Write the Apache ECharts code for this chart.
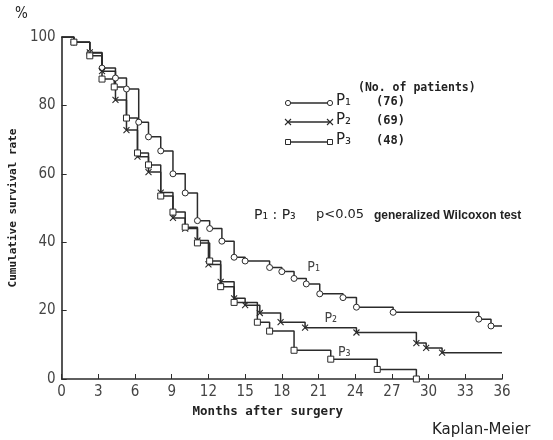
<!DOCTYPE html>
<html>
<head>
<meta charset="utf-8">
<script src="https://cdn.jsdelivr.net/npm/echarts@6/dist/echarts.min.js"></script>
<style>
  html, body { margin: 0; padding: 0; background: #fff; }
  #chart { width: 553px; height: 440px; }
</style>
</head>
<body>
<div id="chart"></div>
<script>
const chart = echarts.init(document.getElementById("chart"));

// ==========================
// DATA
// ==========================

const xTicks = [0, 3, 6, 9, 12, 15, 18, 21, 24, 27, 30, 33, 36];
const yTicks = [0, 20, 40, 60, 80, 100];

// P1 (circles)
const p1Months = [0, 1.0, 2.3, 3.3, 4.4, 5.3, 6.3, 7.1, 8.1, 9.1, 10.1, 11.1, 12.1, 13.1, 14.1, 15.0, 17.0, 18.0, 19.0, 20.0, 21.1, 23.0, 24.1, 27.1, 34.1, 35.1, 36];
const p1Surv   = [100, 98.5, 95.3, 90.9, 88.0, 84.8, 75.1, 70.8, 66.7, 60.0, 54.4, 46.3, 44.0, 40.3, 35.6, 34.5, 32.6, 31.4, 29.4, 27.8, 24.9, 23.8, 21.0, 19.5, 17.5, 15.5, 15.5];

// P2 (crosses)
const p2Months = [0, 1.0, 2.3, 3.3, 4.4, 5.3, 6.2, 7.1, 8.1, 9.1, 10.1, 11.1, 12.0, 13.0, 14.1, 15.0, 16.2, 17.9, 19.9, 24.1, 29.0, 29.8, 31.1, 36];
const p2Surv   = [100, 98.5, 95.5, 90.0, 81.6, 72.8, 65.0, 60.5, 54.5, 47.1, 44.0, 40.5, 33.5, 28.4, 23.6, 21.6, 19.3, 16.6, 15.0, 13.6, 10.5, 9.1, 7.7, 7.7];

// P3 (squares)
const p3Months = [0, 1.0, 2.3, 3.3, 4.3, 5.3, 6.2, 7.1, 8.1, 9.1, 10.1, 11.1, 12.1, 13.0, 14.1, 16.0, 17.0, 19.0, 22.0, 25.8, 29.0];
const p3Surv   = [100, 98.5, 94.5, 87.7, 85.4, 76.3, 66.1, 62.6, 53.5, 48.8, 44.4, 39.8, 34.5, 27.0, 22.4, 16.6, 14.0, 8.4, 5.8, 2.8, 0];

// censored observations (small vertical ticks)
const censorMonths = [5.2, 8.0, 15.0, 33.1];
const censorSurv   = [88.0, 70.8, 34.5, 19.5];

const groupNames = ["P₁", "P₂", "P₃"];
const groupCounts = ["(76)", "(69)", "(48)"];

// ==========================
// STYLE
// ==========================

const INK = "#2b2b2b";
const CROSS = "path://M0,0L10,10M0,10L10,0";
const TICK = "path://M0,0L0,10";
const MONO = "'DejaVu Sans Mono', monospace";
const NARROW = "'DejaVu Sans Condensed', 'Liberation Sans Narrow', sans-serif";

function kmData(months, surv) {
  return months.map((t, i) => {
    const hidden = i === 0 || (i === months.length - 1 && surv[i] === surv[i - 1]);
    return hidden ? { value: [t, surv[i]], symbol: "none" } : [t, surv[i]];
  });
}

function kmSeries(name, months, surv, symbol, labelCoord) {
  const isCross = symbol === CROSS;
  return {
    name: name,
    type: "line",
    step: "end",
    data: kmData(months, surv),
    symbol: symbol,
    symbolSize: 6,
    showAllSymbol: true,
    lineStyle: { color: INK, width: 1.5 },
    itemStyle: isCross
      ? { color: INK, borderColor: INK, borderWidth: 1.1 }
      : { color: "#fff", borderColor: INK, borderWidth: 1 },
    markPoint: {
      symbol: "circle",
      symbolSize: 0,
      data: [{ coord: labelCoord }],
      label: {
        show: true,
        formatter: name,
        color: "#444",
        fontFamily: NARROW,
        fontSize: 14
      }
    },
    z: 3
  };
}

function crossLines(cx, cy) {
  return [
    { type: "line", shape: { x1: cx - 3, y1: cy - 3, x2: cx + 3, y2: cy + 3 }, style: { stroke: INK, lineWidth: 1.1 } },
    { type: "line", shape: { x1: cx - 3, y1: cy + 3, x2: cx + 3, y2: cy - 3 }, style: { stroke: INK, lineWidth: 1.1 } }
  ];
}

function txt(x, y, text, font, size, weight) {
  return {
    type: "text",
    x: x,
    y: y,
    style: { text: text, fontFamily: font, fontSize: size, fontWeight: weight || "normal", fill: "#222" }
  };
}

chart.setOption({
  animation: false,
  grid: { left: 58, right: 51, top: 37, bottom: 61 },
  xAxis: {
    type: "value",
    min: 0,
    max: 36,
    interval: 3,
    name: "Months after surgery",
    nameLocation: "middle",
    nameGap: 24,
    nameTextStyle: {
      fontFamily: MONO,
      fontSize: 12.5,
      fontWeight: "bold",
      color: "#222",
      padding: [0, 28, 0, 0]
    },
    axisLine: { lineStyle: { color: INK, width: 1.6 } },
    axisTick: { inside: true, length: 5, lineStyle: { color: INK } },
    splitLine: { show: false },
    axisLabel: {
      margin: 6,
      fontFamily: NARROW,
      fontSize: 15,
      color: "#444",
      formatter: (v) => (xTicks.includes(v) ? String(v) : "")
    }
  },
  yAxis: {
    type: "value",
    min: 0,
    max: 100,
    interval: 20,
    name: "Cumulative survival rate",
    nameLocation: "middle",
    nameRotate: 90,
    nameGap: 36,
    nameTextStyle: {
      fontFamily: MONO,
      fontSize: 11,
      fontWeight: "bold",
      color: "#222"
    },
    axisLine: { show: true, lineStyle: { color: INK, width: 1.6 } },
    axisTick: { show: true, inside: true, length: 5, lineStyle: { color: INK } },
    splitLine: { show: false },
    axisLabel: {
      margin: 6,
      fontFamily: NARROW,
      fontSize: 15,
      color: "#444",
      formatter: (v) => (yTicks.includes(v) ? String(v) : "")
    }
  },
  series: [
    kmSeries(groupNames[0], p1Months, p1Surv, "circle", [20.6, 32.5]),
    kmSeries(groupNames[1], p2Months, p2Surv, CROSS, [22.0, 17.8]),
    kmSeries(groupNames[2], p3Months, p3Surv, "rect", [23.1, 7.9]),
    {
      type: "scatter",
      data: censorMonths.map((t, i) => [t, censorSurv[i]]),
      symbol: TICK,
      symbolSize: [2, 7],
      symbolOffset: [0, -3],
      itemStyle: { color: INK, borderColor: INK, borderWidth: 1 },
      z: 2
    }
  ],
  graphic: [
    txt(15, 7, "%", NARROW, 15),

    // legend block
    txt(358, 82, "(No. of patients)", MONO, 11.5, "bold"),

    { type: "line", shape: { x1: 288, y1: 103, x2: 330, y2: 103 }, style: { stroke: INK, lineWidth: 1.5 } },
    { type: "circle", shape: { cx: 288, cy: 103, r: 2.6 }, style: { fill: "#fff", stroke: INK, lineWidth: 1 } },
    { type: "circle", shape: { cx: 330, cy: 103, r: 2.6 }, style: { fill: "#fff", stroke: INK, lineWidth: 1 } },

    { type: "line", shape: { x1: 288, y1: 122, x2: 330, y2: 122 }, style: { stroke: INK, lineWidth: 1.5 } },
    ...crossLines(288, 122),
    ...crossLines(330, 122),

    { type: "line", shape: { x1: 288, y1: 142, x2: 330, y2: 142 }, style: { stroke: INK, lineWidth: 1.5 } },
    { type: "rect", shape: { x: 285.5, y: 139.5, width: 5, height: 5 }, style: { fill: "#fff", stroke: INK, lineWidth: 1 } },
    { type: "rect", shape: { x: 327.5, y: 139.5, width: 5, height: 5 }, style: { fill: "#fff", stroke: INK, lineWidth: 1 } },

    txt(336, 94, groupNames[0], "'DejaVu Sans', sans-serif", 15),
    txt(336, 113, groupNames[1], "'DejaVu Sans', sans-serif", 15),
    txt(336, 133, groupNames[2], "'DejaVu Sans', sans-serif", 15),
    txt(376, 96, groupCounts[0], MONO, 12, "bold"),
    txt(376, 115, groupCounts[1], MONO, 12, "bold"),
    txt(376, 135, groupCounts[2], MONO, 12, "bold"),

    // test annotation
    txt(254, 208, "P₁ : P₃", "'DejaVu Sans', sans-serif", 14),
    txt(316, 208, "p<0.05", "'DejaVu Sans', sans-serif", 13),
    txt(374, 210, "generalized Wilcoxon test", "'Liberation Sans', sans-serif", 12, "bold"),

    txt(432, 423, "Kaplan-Meier", "'DejaVu Sans', sans-serif", 15)
  ]
});
</script>
</body>
</html>
